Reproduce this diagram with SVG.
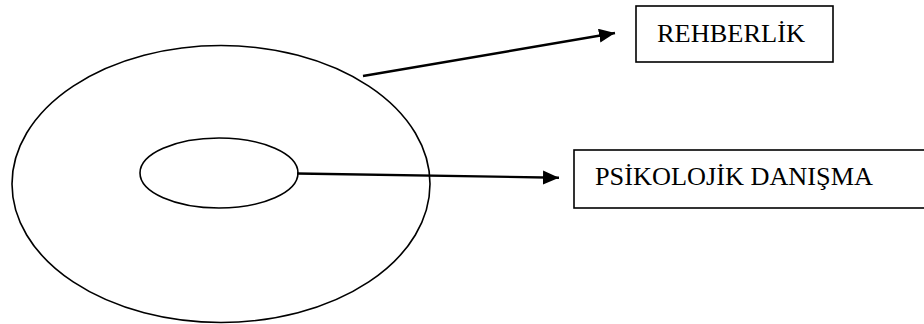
<svg xmlns="http://www.w3.org/2000/svg" width="924" height="324" viewBox="0 0 924 324">
<style>
.sh{fill:none;stroke:#000;stroke-width:1.6}
.bx{fill:#fff;stroke:#000;stroke-width:1.6}
.ln{stroke:#000;stroke-width:2.4;fill:none}
.t{font-family:"Liberation Serif",serif;font-size:26px;fill:#000}
</style>
<defs>
<marker id="ah" markerUnits="userSpaceOnUse" markerWidth="17" markerHeight="15" refX="16" refY="7" orient="auto">
<path d="M0,0 L16,7 L0,14 Z" fill="#000"/>
</marker>
</defs>
<g id="outer"><ellipse class="sh" cx="221" cy="184" rx="209" ry="138.5"/></g>
<g id="inner"><ellipse class="sh" cx="219" cy="173" rx="79" ry="35"/></g>
<g id="connectors">
<line class="ln" x1="363" y1="76" x2="615" y2="33" marker-end="url(#ah)"/>
<line class="ln" x1="297" y1="173.5" x2="559" y2="177.7" marker-end="url(#ah)"/>
</g>
<g id="rehberlik">
<rect class="bx" x="636" y="6" width="197" height="56"/>
<text class="t" x="657" y="42" textLength="148" lengthAdjust="spacingAndGlyphs">REHBERLİK</text>
</g>
<g id="psikolojik">
<rect class="bx" x="574" y="150" width="360" height="58"/>
<text class="t" x="595" y="185" textLength="278" lengthAdjust="spacingAndGlyphs">PSİKOLOJİK DANIŞMA</text>
</g>
</svg>
